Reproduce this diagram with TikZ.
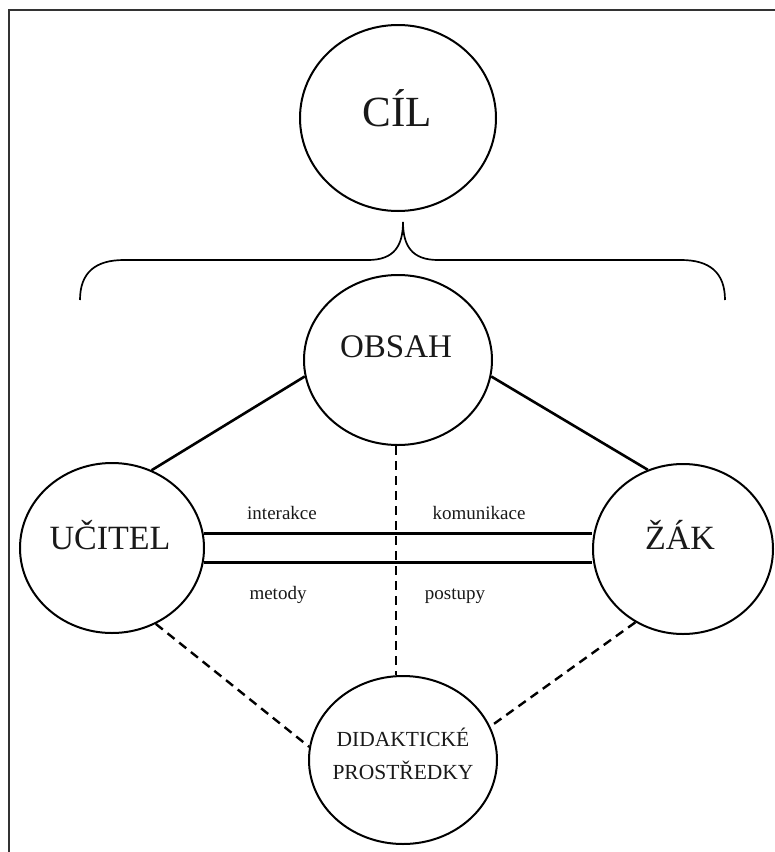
\documentclass[tikz,border=0pt]{standalone}
\usepackage{fontspec}
\setmainfont{Liberation Serif}
\usetikzlibrary{shapes.geometric}
\tikzset{
  blob/.style={draw, shape=ellipse, inner sep=0pt, line width=2pt},
  lbl/.style={anchor=base, inner sep=0pt, text=black!90},
  solidcon/.style={line width=2.6pt},
  dashcon/.style={line width=2.4pt, dash pattern=on 9pt off 6pt},
  bracepath/.style={line width=1.7pt},
}
\begin{document}
\begin{tikzpicture}[x=1pt, y=-1pt]
\useasboundingbox (0,0) rectangle (775,852);
% frame
\coordinate (ftr) at (775,10);
\coordinate (ftl) at (9,10);
\coordinate (fbl) at (9,852);
\draw[line width=1.4pt, black!80] (ftr) -- (ftl) -- (fbl);

% circles
\node[blob, minimum width=196pt, minimum height=186pt] (cil) at (398,118) {};
\node[blob, minimum width=188pt, minimum height=170pt] (ob) at (398,360) {};
\node[blob, minimum width=184pt, minimum height=170pt] (uc) at (112,548) {};
\node[blob, minimum width=180pt, minimum height=170pt] (zk) at (683,549) {};
\node[blob, minimum width=188pt, minimum height=168pt] (dp) at (403,760) {};

% texts
\node[lbl, font=\fontsize{43}{50}\selectfont] (tcil) at (397,126) {CÍL};
\node[lbl, font=\fontsize{33}{40}\selectfont] (tob) at (396,357) {OBSAH};
\node[lbl, font=\fontsize{34}{40}\selectfont] (tuc) at (110,549) {UČITEL};
\node[lbl, font=\fontsize{34}{40}\selectfont] (tzk) at (680,549) {ŽÁK};
\node[lbl, font=\fontsize{21.5}{26}\selectfont] (tdp1) at (403,746) {DIDAKTICKÉ};
\node[lbl, font=\fontsize{21.5}{26}\selectfont] (tdp2) at (403,779) {PROSTŘEDKY};
\node[lbl, font=\fontsize{19}{23}\selectfont] (lint) at (282,519) {interakce};
\node[lbl, font=\fontsize{19}{23}\selectfont] (lkom) at (479,519) {komunikace};
\node[lbl, font=\fontsize{19}{23}\selectfont] (lmet) at (278,599) {metody};
\node[lbl, font=\fontsize{19}{23}\selectfont] (lpos) at (455,599) {postupy};

% brace
\coordinate (bl) at (80,300);
\coordinate (br) at (725,300);
\coordinate (btip) at (403,222);
\draw[bracepath] (bl) .. controls (80,272) and (96,260) .. (124,260)
  -- (368,260) .. controls (394,260) and (403,246) .. (btip)
  .. controls (403,246) and (412,260) .. (438,260)
  -- (681,260) .. controls (709,260) and (725,272) .. (br);

% solid connectors
\draw[solidcon] (uc.63) -- (ob.190);
\draw[solidcon] (zk.114) -- (ob.350);
\draw[solidcon] (uc.9) -- (uc.9 -| zk.west);
\draw[solidcon] (uc.-9.5) -- (uc.-9.5 -| zk.west);

% dashed connectors
\draw[dashcon] (ob.south -| 396,0) -- (dp.north -| 396,0);
\draw[dashcon] (uc.300) -- (dp.172);
\draw[dashcon] (zk.237) -- (dp.21);
\end{tikzpicture}
\end{document}
